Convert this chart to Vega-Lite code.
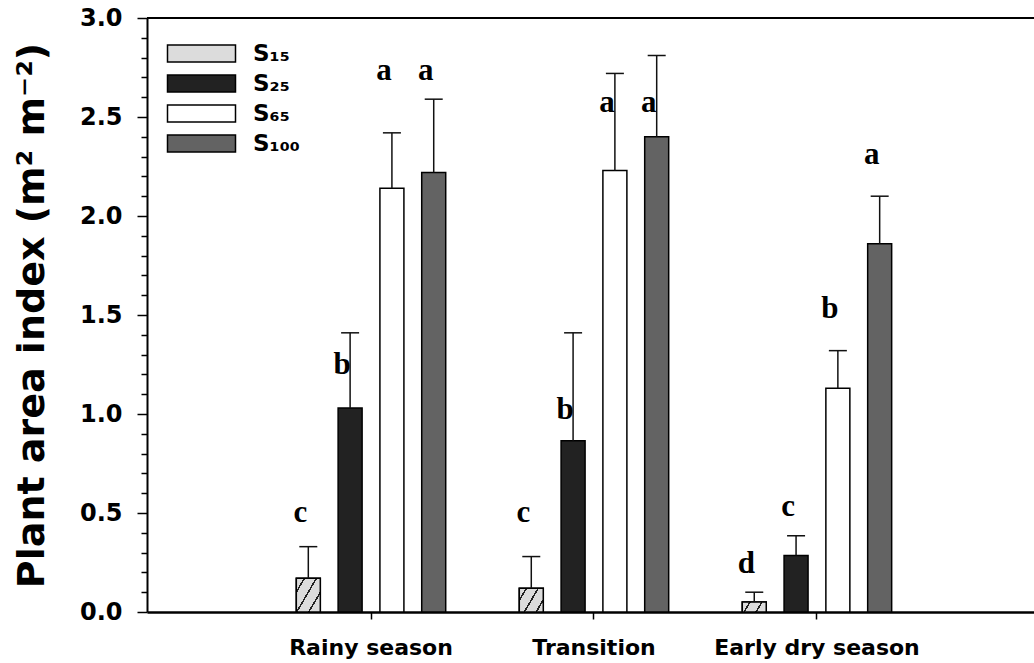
{
  "$schema": "https://vega.github.io/schema/vega-lite/v6.json",
  "width": 887,
  "height": 594,
  "autosize": "none",
  "padding": {"left": 147, "top": 18, "right": 0, "bottom": 51},
  "background": "white",
  "config": {"view": {"stroke": null}, "font": "DejaVu Sans"},
  "data": {
    "values": [
      {"season": "Rainy season", "series": "S15", "value": 0.17, "upper": 0.33, "letter": "c", "letterAt": 0.50},
      {"season": "Rainy season", "series": "S25", "value": 1.03, "upper": 1.41, "letter": "b", "letterAt": 1.25},
      {"season": "Rainy season", "series": "S65", "value": 2.14, "upper": 2.42, "letter": "a", "letterAt": 2.73},
      {"season": "Rainy season", "series": "S100", "value": 2.22, "upper": 2.59, "letter": "a", "letterAt": 2.73},
      {"season": "Transition", "series": "S15", "value": 0.12, "upper": 0.28, "letter": "c", "letterAt": 0.50},
      {"season": "Transition", "series": "S25", "value": 0.865, "upper": 1.41, "letter": "b", "letterAt": 1.02},
      {"season": "Transition", "series": "S65", "value": 2.23, "upper": 2.72, "letter": "a", "letterAt": 2.57},
      {"season": "Transition", "series": "S100", "value": 2.40, "upper": 2.81, "letter": "a", "letterAt": 2.57},
      {"season": "Early dry season", "series": "S15", "value": 0.05, "upper": 0.10, "letter": "d", "letterAt": 0.24},
      {"season": "Early dry season", "series": "S25", "value": 0.285, "upper": 0.385, "letter": "c", "letterAt": 0.53},
      {"season": "Early dry season", "series": "S65", "value": 1.13, "upper": 1.32, "letter": "b", "letterAt": 1.53},
      {"season": "Early dry season", "series": "S100", "value": 1.86, "upper": 2.10, "letter": "a", "letterAt": 2.31}
    ]
  },
  "layer": [
    {
      "mark": {"type": "bar", "stroke": "#000", "strokeWidth": 1.5},
      "encoding": {
        "x": {
          "field": "season", "type": "nominal",
          "sort": ["Rainy season", "Transition", "Early dry season"],
          "scale": {"paddingInner": 0, "paddingOuter": 0.489, "align": 0.516},
          "axis": {
            "title": null, "labelAngle": 0, "labelLimit": 500,
            "labelFont": "DejaVu Sans", "labelFontWeight": "bold", "labelFontSize": 22, "labelColor": "#000",
            "labelPadding": 18, "tickSize": 7, "tickWidth": 1.5, "tickColor": "#000",
            "domainColor": "#000", "domainWidth": 2.5
          }
        },
        "xOffset": {
          "field": "series", "type": "nominal",
          "sort": ["S15", "S25", "S65", "S100"],
          "scale": {"paddingInner": 0.426, "paddingOuter": 0.88}
        },
        "y": {
          "field": "value", "type": "quantitative",
          "scale": {"domain": [0, 3], "nice": false},
          "axis": {
            "title": "Plant area index (m² m⁻²)",
            "titleFont": "DejaVu Sans", "titleFontWeight": "bold", "titleFontSize": 38, "titleColor": "#000",
            "titleAngle": -90, "titleX": -104, "titleY": 297, "titleAlign": "center", "titleBaseline": "alphabetic",
            "tickCount": 100,
            "values": [0, 0.1, 0.2, 0.3, 0.4, 0.5, 0.6, 0.7, 0.8, 0.9, 1, 1.1, 1.2, 1.3, 1.4, 1.5, 1.6, 1.7, 1.8, 1.9, 2, 2.1, 2.2, 2.3, 2.4, 2.5, 2.6, 2.7, 2.8, 2.9, 3],
            "labelExpr": "abs(datum.value*2 - round(datum.value*2)) < 0.001 ? format(datum.value, '.1f') : ''",
            "labelFont": "DejaVu Sans", "labelFontWeight": "bold", "labelFontSize": 24, "labelColor": "#000",
            "labelPadding": 15, "labelOverlap": false, "labelFlush": false, "labelBound": false,
            "tickSize": {"condition": {"test": "abs(datum.value*2 - round(datum.value*2)) < 0.001", "value": 10}, "value": 6},
            "tickColor": "#000", "tickWidth": 1.5,
            "domainColor": "#000", "domainWidth": 2, "grid": false
          }
        },
        "fill": {
          "field": "series", "type": "nominal",
          "scale": {"domain": ["S15", "S25", "S65", "S100"], "range": ["#dcdcdc", "#222222", "#ffffff", "#636363"]},
          "legend": {
            "orient": "none", "legendX": 43, "legendY": 24, "title": null, "padding": 0,
            "symbolType": "M-4,-1L4,-1L4,1L-4,1Z", "symbolSize": 289,
            "symbolStrokeColor": "#000", "symbolStrokeWidth": 1.5, "symbolOpacity": 1,
            "labelFont": "DejaVu Sans", "labelFontWeight": "bold", "labelFontSize": 23, "labelColor": "#000",
            "labelOffset": 40, "rowPadding": 6, "labelBaseline": "middle",
            "labelExpr": "datum.label == 'S15' ? 'S₁₅' : datum.label == 'S25' ? 'S₂₅' : datum.label == 'S65' ? 'S₆₅' : 'S₁₀₀'",
            "encode": {
              "symbols": {
                "update": {
                  "stroke": {"value": "#000"},
                  "strokeWidth": {"value": 1.5}
                }
              }
            }
          }
        }
      }
    },
    {
      "transform": [{"filter": "datum.series === 'S15' && datum.season === 'Rainy season'"}],
      "mark": {"type": "bar", "stroke": "#000", "strokeWidth": 1.5,
        "fill": {"gradient": "linear", "x1": 0, "y1": 0, "x2": 1, "y2": 0.82, "stops": [
          {"offset": 0, "color": "#dcdcdc"}, {"offset": 0.178, "color": "#dcdcdc"}, {"offset": 0.178, "color": "#222"}, {"offset": 0.222, "color": "#222"}, {"offset": 0.222, "color": "#dcdcdc"},
          {"offset": 0.478, "color": "#dcdcdc"}, {"offset": 0.478, "color": "#222"}, {"offset": 0.522, "color": "#222"}, {"offset": 0.522, "color": "#dcdcdc"},
          {"offset": 0.778, "color": "#dcdcdc"}, {"offset": 0.778, "color": "#222"}, {"offset": 0.822, "color": "#222"}, {"offset": 0.822, "color": "#dcdcdc"},
          {"offset": 1, "color": "#dcdcdc"}
        ]}},
      "encoding": {
        "x": {"field": "season", "type": "nominal", "sort": ["Rainy season", "Transition", "Early dry season"]},
        "xOffset": {"field": "series", "type": "nominal", "sort": ["S15", "S25", "S65", "S100"]},
        "y": {"field": "value", "type": "quantitative"}
      }
    },
    {
      "transform": [{"filter": "datum.series === 'S15' && datum.season === 'Transition'"}],
      "mark": {"type": "bar", "stroke": "#000", "strokeWidth": 1.5,
        "fill": {"gradient": "linear", "x1": 0, "y1": 0, "x2": 1, "y2": 0.58, "stops": [
          {"offset": 0, "color": "#dcdcdc"}, {"offset": 0.192, "color": "#dcdcdc"}, {"offset": 0.192, "color": "#222"}, {"offset": 0.248, "color": "#222"}, {"offset": 0.248, "color": "#dcdcdc"},
          {"offset": 0.562, "color": "#dcdcdc"}, {"offset": 0.562, "color": "#222"}, {"offset": 0.618, "color": "#222"}, {"offset": 0.618, "color": "#dcdcdc"},
          {"offset": 0.932, "color": "#dcdcdc"}, {"offset": 0.932, "color": "#222"}, {"offset": 0.988, "color": "#222"}, {"offset": 0.988, "color": "#dcdcdc"},
          {"offset": 1, "color": "#dcdcdc"}
        ]}},
      "encoding": {
        "x": {"field": "season", "type": "nominal", "sort": ["Rainy season", "Transition", "Early dry season"]},
        "xOffset": {"field": "series", "type": "nominal", "sort": ["S15", "S25", "S65", "S100"]},
        "y": {"field": "value", "type": "quantitative"}
      }
    },
    {
      "transform": [{"filter": "datum.series === 'S15' && datum.season === 'Early dry season'"}],
      "mark": {"type": "bar", "stroke": "#000", "strokeWidth": 1.5,
        "fill": {"gradient": "linear", "x1": 0, "y1": 0, "x2": 1, "y2": 0.24, "stops": [
          {"offset": 0, "color": "#dcdcdc"}, {"offset": 0.265, "color": "#dcdcdc"}, {"offset": 0.265, "color": "#222"}, {"offset": 0.335, "color": "#222"}, {"offset": 0.335, "color": "#dcdcdc"},
          {"offset": 0.735, "color": "#dcdcdc"}, {"offset": 0.735, "color": "#222"}, {"offset": 0.805, "color": "#222"}, {"offset": 0.805, "color": "#dcdcdc"},
          {"offset": 1, "color": "#dcdcdc"}
        ]}},
      "encoding": {
        "x": {"field": "season", "type": "nominal", "sort": ["Rainy season", "Transition", "Early dry season"]},
        "xOffset": {"field": "series", "type": "nominal", "sort": ["S15", "S25", "S65", "S100"]},
        "y": {"field": "value", "type": "quantitative"}
      }
    },
    {
      "mark": {"type": "rule", "strokeWidth": 1.5, "color": "#111"},
      "encoding": {
        "x": {"field": "season", "type": "nominal", "sort": ["Rainy season", "Transition", "Early dry season"]},
        "xOffset": {"field": "series", "type": "nominal", "sort": ["S15", "S25", "S65", "S100"]},
        "y": {"field": "value", "type": "quantitative"},
        "y2": {"field": "upper"}
      }
    },
    {
      "mark": {"type": "tick", "orient": "horizontal", "size": 18, "thickness": 1.5, "color": "#111", "opacity": 1},
      "encoding": {
        "x": {"field": "season", "type": "nominal", "sort": ["Rainy season", "Transition", "Early dry season"]},
        "xOffset": {"field": "series", "type": "nominal", "sort": ["S15", "S25", "S65", "S100"]},
        "y": {"field": "upper", "type": "quantitative"}
      }
    },
    {
      "mark": {"type": "text", "font": "Liberation Serif", "fontWeight": "bold", "fontSize": 31, "color": "#000", "baseline": "middle", "align": "center", "dx": -8},
      "encoding": {
        "x": {"field": "season", "type": "nominal", "sort": ["Rainy season", "Transition", "Early dry season"]},
        "xOffset": {"field": "series", "type": "nominal", "sort": ["S15", "S25", "S65", "S100"]},
        "y": {"field": "letterAt", "type": "quantitative"},
        "text": {"field": "letter"}
      }
    },
    {
      "mark": {"type": "rule", "strokeWidth": 2, "color": "#000"},
      "encoding": {"y": {"datum": 3}}
    }
  ]
}
